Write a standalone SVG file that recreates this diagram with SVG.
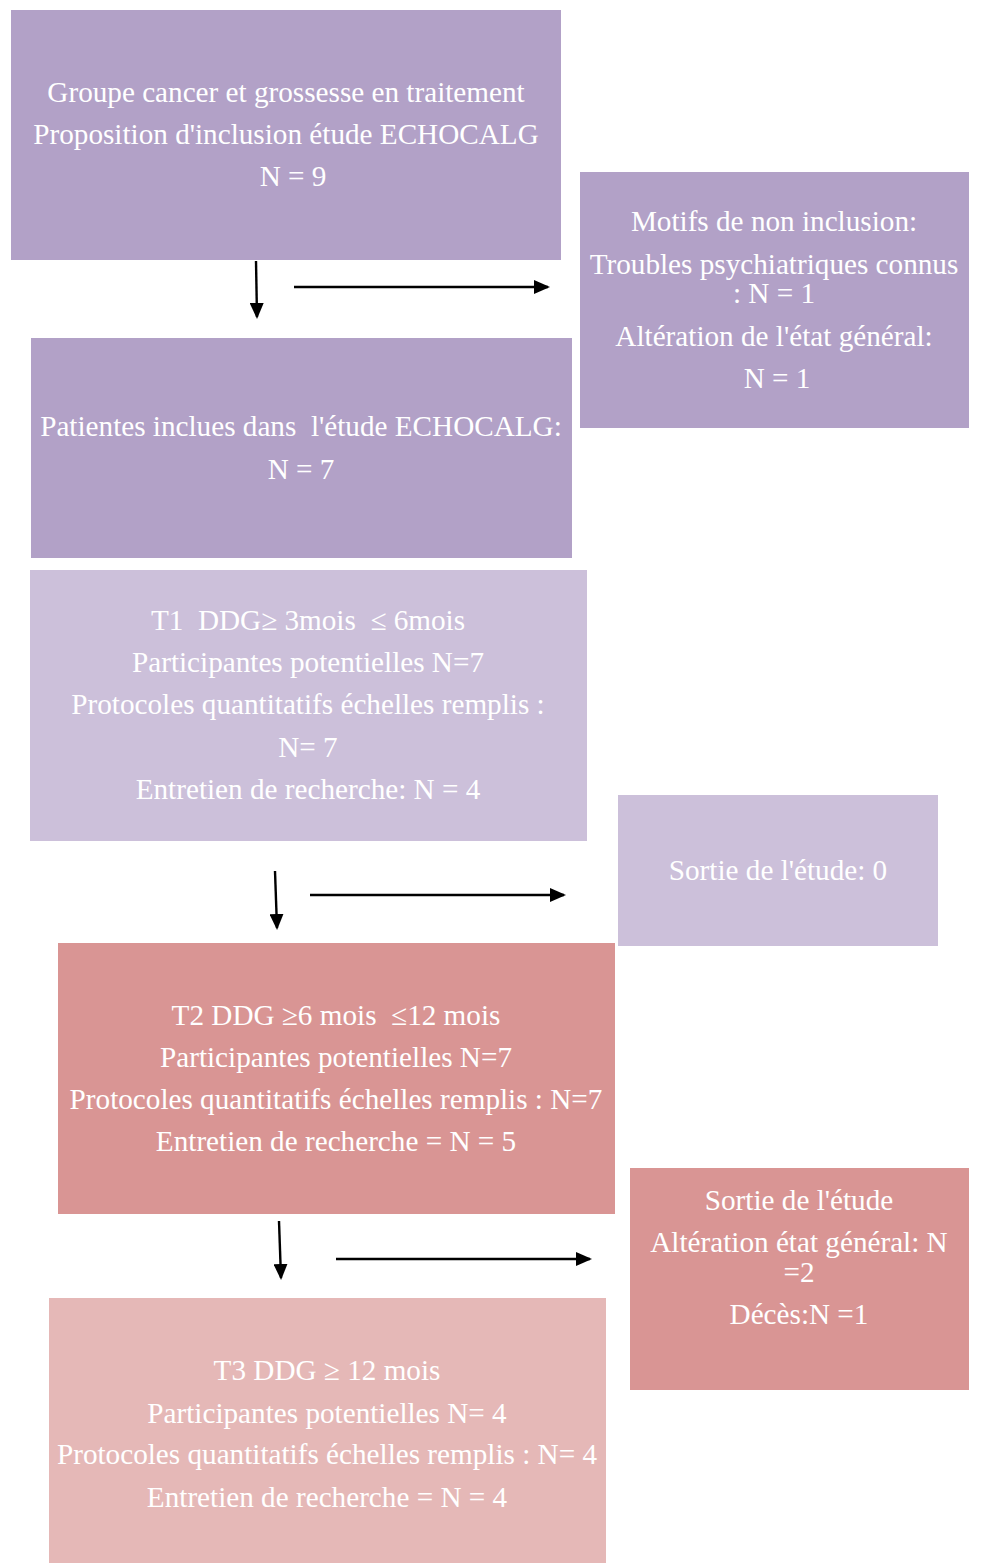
<svg xmlns="http://www.w3.org/2000/svg" width="981" height="1563" viewBox="0 0 981 1563">
<style>
text{font-family:"Liberation Serif","Times New Roman",serif;font-size:29.2px;fill:#ffffff;text-anchor:middle}
.p1{fill:#B2A1C7}
.p2{fill:#CCC0DA}
.r1{fill:#D99594}
.r2{fill:#E5B8B7}
.c{stroke:#000;stroke-width:2.4;fill:none;marker-end:url(#ah)}
</style>
<defs>
<marker id="ah" markerWidth="16" markerHeight="14" refX="14" refY="7" orient="auto" markerUnits="userSpaceOnUse">
<path d="M0,0 L16,7 L0,14 Z" fill="#000"/>
</marker>
</defs>
<rect width="981" height="1563" fill="#fff"/>
<g id="n1"><rect class="p1" x="11" y="10" width="550" height="250"/>
<text x="286" y="102">Groupe cancer et grossesse en traitement</text>
<text x="286" y="144">Proposition d'inclusion étude ECHOCALG</text>
<text x="293" y="186">N = 9</text></g>
<g id="n2"><rect class="p1" x="580" y="172" width="389" height="256"/>
<text x="774" y="231">Motifs de non inclusion:</text>
<text x="774" y="274">Troubles psychiatriques connus</text>
<text x="774" y="303">: N = 1</text>
<text x="774" y="346">Altération de l'état général:</text>
<text x="777" y="388">N = 1</text></g>
<g id="n3"><rect class="p1" x="31" y="338" width="541" height="220"/>
<text x="301" y="436" xml:space="preserve">Patientes inclues dans  l'étude ECHOCALG:</text>
<text x="301" y="479">N = 7</text></g>
<g id="n4"><rect class="p2" x="30" y="570" width="557" height="271"/>
<text x="308" y="630" xml:space="preserve">T1  DDG≥ 3mois  ≤ 6mois</text>
<text x="308" y="672">Participantes potentielles N=7</text>
<text x="308" y="714">Protocoles quantitatifs échelles remplis :</text>
<text x="308" y="757">N= 7</text>
<text x="308" y="799">Entretien de recherche: N = 4</text></g>
<g id="n5"><rect class="p2" x="618" y="795" width="320" height="151"/>
<text x="778" y="880">Sortie de l'étude: 0</text></g>
<g id="n6"><rect class="r1" x="58" y="943" width="557" height="271"/>
<text x="336" y="1025" xml:space="preserve">T2 DDG ≥6 mois  ≤12 mois</text>
<text x="336" y="1067">Participantes potentielles N=7</text>
<text x="336" y="1109">Protocoles quantitatifs échelles remplis : N=7</text>
<text x="336" y="1151">Entretien de recherche = N = 5</text></g>
<g id="n7"><rect class="r1" x="630" y="1168" width="339" height="222"/>
<text x="799" y="1210">Sortie de l'étude</text>
<text x="799" y="1252">Altération état général: N</text>
<text x="799" y="1282">=2</text>
<text x="799" y="1324">Décès:N =1</text></g>
<g id="n8"><rect class="r2" x="49" y="1298" width="557" height="265"/>
<text x="327" y="1380">T3 DDG ≥ 12 mois</text>
<text x="327" y="1423">Participantes potentielles N= 4</text>
<text x="327" y="1464">Protocoles quantitatifs échelles remplis : N= 4</text>
<text x="327" y="1507">Entretien de recherche = N = 4</text></g>
<g id="connectors">
<line class="c" x1="256" y1="261" x2="257" y2="317"/>
<line class="c" x1="294" y1="287" x2="548" y2="287"/>
<line class="c" x1="275" y1="871" x2="277" y2="928"/>
<line class="c" x1="310" y1="895" x2="564" y2="895"/>
<line class="c" x1="279" y1="1221" x2="281" y2="1278"/>
<line class="c" x1="336" y1="1259" x2="590" y2="1259"/>
</g>
</svg>
